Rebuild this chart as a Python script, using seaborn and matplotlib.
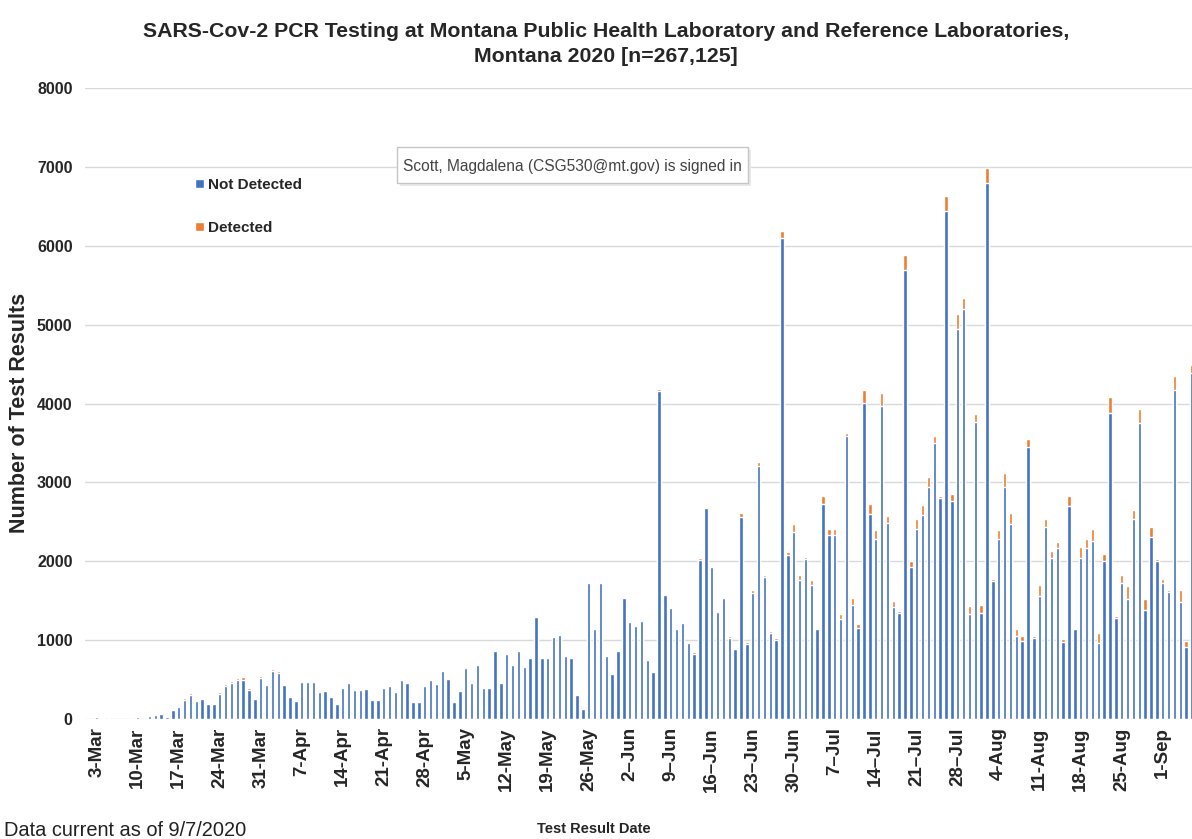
import pandas as pd
import matplotlib.pyplot as plt
import seaborn as sns
from matplotlib.patches import Patch, Rectangle

# Daily PCR test totals (Not Detected + Detected), 3-Mar .. 6-Sep 2020
total_mar = [20, 15, 10, 5, 0, 0, 15, 20, 20, 35, 60, 75, 30, 120, 170, 260, 330, 240, 265, 200,
             200, 340, 440, 485, 525, 530, 390, 260, 550]
total_apr = [445, 635, 610, 445, 285, 240, 475, 485, 485, 345, 360, 285, 200, 400, 465, 380, 380, 380,
             240, 240, 400, 420, 345, 505, 465, 220, 220, 420, 505, 445]
total_may = [610, 505, 220, 360, 655, 465, 695, 390, 390, 865, 465, 825, 695, 865, 665, 780, 1300, 780,
             780, 1045, 1070, 800, 780, 305, 135, 1730, 1150, 1730, 800, 570, 865]
total_jun = [1550, 1235, 1195, 1260, 760, 600, 4190, 1590, 1420, 1150, 1235, 980, 845, 2040, 2690, 1945,
             1370, 1550, 1050, 905, 2610, 975, 1630, 3260, 1830, 1115, 1025, 6190, 2115, 2470]
total_jul = [1830, 2050, 1760, 1155, 2830, 2410, 2410, 1325, 3630, 1535, 1200, 4170, 2720, 2390, 4130,
             2575, 1490, 1370, 5880, 2000, 2535, 2710, 3070, 3590, 2830, 6630, 2850, 5130, 5340, 1430, 3865]
total_aug = [1445, 6990, 1780, 2400, 3115, 2610, 1135, 1050, 3555, 1050, 1695, 2535, 2135, 2240, 1010,
             2825, 1160, 2175, 2280, 2410, 1095, 2090, 4080, 1300, 1825, 1680, 2655, 3935, 1520, 2430, 2025]
total_sep = [1770, 1635, 4350, 1635, 995, 4485]

# Detected (positive) results per day
det_mar = [0, 0, 0, 0, 0, 0, 0, 0, 1, 2, 5, 8, 3, 10, 15, 20, 25, 15, 15, 12, 10, 20, 25, 30, 30, 30,
           20, 12, 25]
det_apr = [20, 30, 30, 15, 10, 8, 10, 12, 12, 8, 8, 6, 4, 6, 8, 6, 6, 5, 3, 3, 5, 5, 4, 6, 5, 2, 2, 4,
           5, 4]
det_may = [5, 4, 2, 3, 5, 4, 5, 3, 3, 6, 4, 6, 5, 6, 5, 6, 10, 6, 6, 8, 8, 6, 6, 3, 2, 10, 8, 10, 6,
           5, 8]
det_jun = [12, 10, 10, 12, 8, 6, 30, 15, 15, 12, 15, 20, 25, 20, 20, 20, 15, 15, 25, 20, 50, 20, 30,
           50, 25, 30, 20, 90, 40, 95]
det_jul = [70, 25, 65, 20, 105, 80, 80, 60, 40, 90, 40, 160, 125, 105, 160, 95, 70, 30, 184, 70, 125,
           120, 125, 95, 30, 184, 80, 184, 147, 105, 105]
det_aug = [98, 190, 25, 119, 178, 140, 85, 64, 106, 20, 136, 98, 93, 72, 30, 119, 20, 136, 114, 148,
           127, 85, 204, 20, 106, 161, 119, 182, 140, 127, 25]
det_sep = [40, 30, 180, 150, 85, 100]

tick_labels = ["3-Mar", "10-Mar", "17-Mar", "24-Mar", "31-Mar", "7-Apr", "14-Apr", "21-Apr",
               "28-Apr", "5-May", "12-May", "19-May", "26-May", "2\u2013Jun", "9\u2013Jun",
               "16\u2013Jun", "23\u2013Jun", "30\u2013Jun", "7\u2013Jul", "14\u2013Jul", "21\u2013Jul",
               "28\u2013Jul", "4-Aug", "11-Aug", "18-Aug", "25-Aug", "1-Sep"]

total = total_mar + total_apr + total_may + total_jun + total_jul + total_aug + total_sep
detected = det_mar + det_apr + det_may + det_jun + det_jul + det_aug + det_sep
days = pd.date_range("2020-03-03", periods=len(total), freq="D")

df = pd.DataFrame({"day": days.strftime("%Y-%m-%d"), "total": total, "detected": detected})
df["not_detected"] = df["total"] - df["detected"]

BLUE = "#4472C4"
ORANGE = "#ED7D31"

sns.set_style("white")
plt.rcParams["font.family"] = ["Liberation Sans", "DejaVu Sans"]

fig = plt.figure(figsize=(11.92, 8.39), dpi=100)
ax = fig.add_axes([85 / 1192, 1 - 719 / 839, (1192 - 85) / 1192, (719 - 88) / 839])

# stacked bars: orange total underneath, blue not-detected drawn over it
sns.barplot(data=df, x="day", y="total", color=ORANGE, saturation=1, width=0.6, ax=ax, zorder=2)
sns.barplot(data=df, x="day", y="not_detected", color=BLUE, saturation=1, width=0.6, ax=ax, zorder=3)

ax.set_ylim(0, 8000)
ax.set_xlim(-2, 187)
ax.set_yticks(range(0, 8001, 1000))
ax.set_yticklabels([str(v) for v in range(0, 8001, 1000)], fontweight="bold", fontsize=11.5)
ax.set_xticks(range(0, len(total), 7))
ax.set_xticklabels(tick_labels, rotation=90, fontweight="bold", fontsize=13.5)
ax.tick_params(axis="both", length=0)
ax.tick_params(axis="y", pad=9)
ax.tick_params(axis="x", pad=6)
ax.grid(axis="y", color="#d9d9d9", linewidth=1, zorder=0)
ax.set_axisbelow(True)
ax.set_xlabel("")
ax.set_ylabel("")
sns.despine(ax=ax, left=True, bottom=True)

handles = [Patch(facecolor=BLUE, label="Not Detected"), Patch(facecolor=ORANGE, label="Detected")]
ax.legend(handles=handles, loc="upper left", bbox_to_anchor=(195 / 1192, 1 - 178 / 839),
          bbox_transform=fig.transFigure, frameon=False, handlelength=0.6, handleheight=0.6,
          handletextpad=0.25, labelspacing=1.9, borderpad=0, borderaxespad=0,
          prop={"weight": "bold", "size": 11})

fig.text(606 / 1192, 1 - 44 / 839,
         "SARS-Cov-2 PCR Testing at Montana Public Health Laboratory and Reference Laboratories,\n"
         "Montana 2020 [n=267,125]",
         ha="center", va="center", fontweight="bold", fontsize=15.3, linespacing=1.4)
fig.text(20 / 1192, 1 - 413 / 839, "Number of Test Results", rotation=90, ha="center", va="center",
         fontweight="bold", fontsize=15.5)
fig.text(594 / 1192, 1 - 829 / 839, "Test Result Date", ha="center", va="center",
         fontweight="bold", fontsize=10.5)
fig.text(4 / 1192, 1 - 830 / 839, "Data current as of 9/7/2020", ha="left", va="center",
         fontsize=14.4, color="#222222")

# signed-in tooltip overlay
fig.patches.append(Rectangle((400 / 1192, 1 - 186 / 839), 351 / 1192, 36 / 839,
                             transform=fig.transFigure, facecolor="#e9e9e9", edgecolor="none", zorder=9))
fig.patches.append(Rectangle((397 / 1192, 1 - 183 / 839), 351 / 1192, 36 / 839,
                             transform=fig.transFigure, facecolor="white", edgecolor="#c6c6c6",
                             linewidth=1, zorder=10))
fig.text(403 / 1192, 1 - 166 / 839, "Scott, Magdalena (CSG530@mt.gov) is signed in", ha="left",
         va="center", fontsize=11.2, color="#444444", zorder=11)

fig.savefig("out.png", dpi=100)
